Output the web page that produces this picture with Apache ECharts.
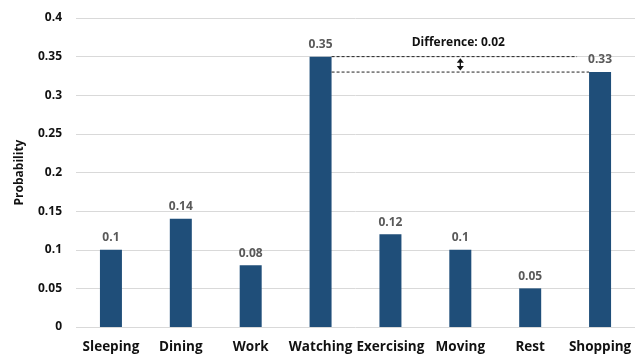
<!DOCTYPE html>
<html>
<head>
<meta charset="utf-8">
<script src="https://cdn.jsdelivr.net/npm/echarts@6/dist/echarts.min.js"></script>
<style>
  html, body { margin: 0; padding: 0; background: #fff; }
  #chart { width: 640px; height: 358px; }
</style>
</head>
<body>
<div id="chart"></div>
<script>
// Activity categories and their probabilities
const categories = ['Sleeping', 'Dining', 'Work', 'Watching', 'Exercising', 'Moving', 'Rest', 'Shopping'];
const probabilities = [0.1, 0.14, 0.08, 0.35, 0.12, 0.1, 0.05, 0.33];
const yTicks = { min: 0, max: 0.4, interval: 0.05 };

// The two bars being compared
const compareA = 3; // Watching
const compareB = 7; // Shopping
const diffText = 'Difference: ' + (probabilities[compareA] - probabilities[compareB]).toFixed(2);

const FONT = '"Open Sans", "Noto Sans", sans-serif';
const BAR_W = 22;

const chart = echarts.init(document.getElementById('chart'), null, { renderer: 'canvas' });

chart.setOption({
  animation: false,
  grid: { left: 76, right: 5, top: 18, bottom: 31 },
  xAxis: {
    type: 'category',
    data: categories,
    axisTick: { show: false },
    axisLine: { show: false },
    axisLabel: { color: '#111', fontWeight: 'bold', fontSize: 13.5, fontFamily: FONT, margin: 13, interval: 0 }
  },
  yAxis: {
    type: 'value',
    min: yTicks.min,
    max: yTicks.max,
    interval: yTicks.interval,
    name: 'Probability',
    nameLocation: 'middle',
    nameGap: 50,
    nameRotate: 90,
    nameTextStyle: { color: '#111', fontWeight: 'bold', fontSize: 12, fontFamily: FONT },
    axisLine: { show: false },
    axisTick: { show: false },
    splitLine: { lineStyle: { color: '#d9d9d9', width: 1 } },
    axisLabel: {
      color: '#111', fontWeight: 'bold', fontSize: 12, fontFamily: FONT, margin: 14,
      formatter: v => String(+v.toFixed(2))
    }
  },
  series: [{
    type: 'bar',
    data: probabilities,
    barWidth: BAR_W,
    itemStyle: { color: '#1f4e79' },
    label: {
      show: true,
      position: 'top',
      distance: 6,
      color: '#595959',
      fontWeight: 'bold',
      fontSize: 12,
      fontFamily: FONT,
      formatter: p => String(p.value)
    }
  }]
});

// Difference annotation between the two compared bars
function drawAnnotation() {
  const pA = chart.convertToPixel({ gridIndex: 0 }, [compareA, probabilities[compareA]]);
  const pB = chart.convertToPixel({ gridIndex: 0 }, [compareB, probabilities[compareB]]);
  const xStart = pA[0] + BAR_W / 2;
  const xEndB = pB[0] - BAR_W / 2;
  const xEndTop = xEndB - 12;
  const xMid = (xStart + xEndTop) / 2 + 6;
  const dash = { stroke: '#222', lineWidth: 1, lineDash: [3, 2] };
  const arrowColor = '#111';
  chart.setOption({
    graphic: [
      { type: 'line', shape: { x1: xStart, y1: pA[1], x2: xEndTop, y2: pA[1] }, style: dash, z: 10 },
      { type: 'line', shape: { x1: xStart, y1: pB[1], x2: xEndB, y2: pB[1] }, style: dash, z: 10 },
      { type: 'line', shape: { x1: xMid, y1: pA[1] + 4, x2: xMid, y2: pB[1] - 4 }, style: { stroke: arrowColor, lineWidth: 1.3 }, z: 10 },
      { type: 'polygon', shape: { points: [[xMid, pA[1] + 1.5], [xMid - 3.5, pA[1] + 6], [xMid + 3.5, pA[1] + 6]] }, style: { fill: arrowColor }, z: 10 },
      { type: 'polygon', shape: { points: [[xMid, pB[1] - 1.5], [xMid - 3.5, pB[1] - 6], [xMid + 3.5, pB[1] - 6]] }, style: { fill: arrowColor }, z: 10 },
      {
        type: 'text', x: xMid - 2, y: pA[1] - 14,
        style: { text: diffText, fill: '#111', font: 'bold 12px ' + FONT, textAlign: 'center', textVerticalAlign: 'middle' },
        z: 10
      }
    ]
  });
}
drawAnnotation();
</script>
</body>
</html>
